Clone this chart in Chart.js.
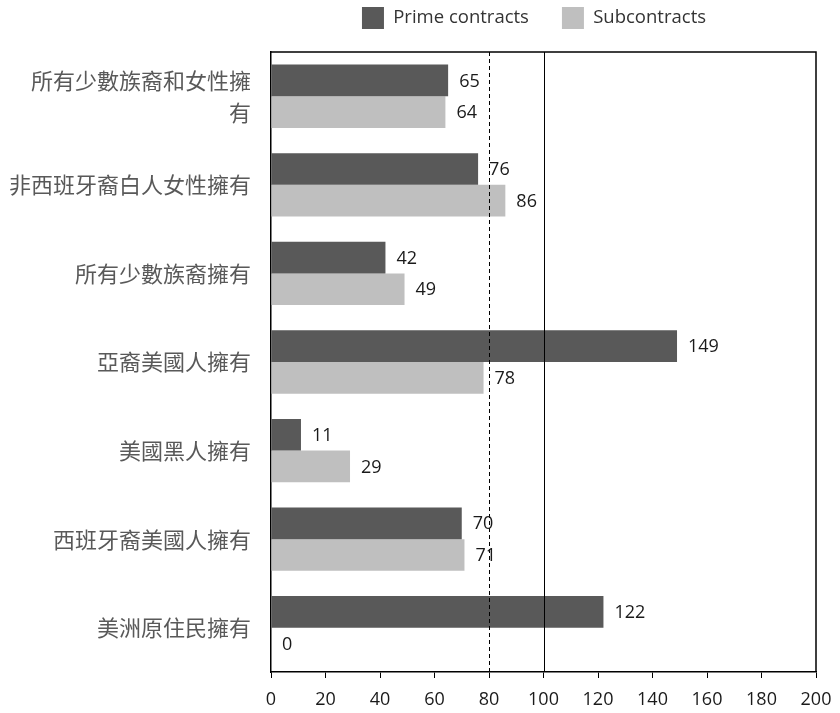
<!DOCTYPE html>
<html>
<head>
<meta charset="utf-8">
<script src="https://cdn.jsdelivr.net/npm/chart.js@4/dist/chart.umd.min.js"></script>
<style>
  html, body { margin: 0; padding: 0; background: #fff; }
  #wrap { width: 840px; height: 713px; position: relative; }
</style>
</head>
<body>
<div id="wrap"><canvas id="c"></canvas></div>
<script>
const categories = [
  ["所有少數族裔和女性擁", "有"],
  "非西班牙裔白人女性擁有",
  "所有少數族裔擁有",
  "亞裔美國人擁有",
  "美國黑人擁有",
  "西班牙裔美國人擁有",
  "美洲原住民擁有"
];
const seriesNames = ["Prime contracts", "Subcontracts"];
const primeValues = [65, 76, 42, 149, 11, 70, 122];
const subValues = [64, 86, 49, 78, 29, 71, 0];
const xTickValues = [0, 20, 40, 60, 80, 100, 120, 140, 160, 180, 200];
const referenceLines = [80, 100];

const NUM_FONT = "'Open Sans', 'Liberation Sans', sans-serif";

const legendTweak = {
  id: 'legendTweak',
  beforeLayout(chart) {
    const lg = chart.legend;
    if (lg && !lg._patched) {
      const orig = lg.fit.bind(lg);
      lg.fit = function () { orig(); this.height += 13; };
      lg._patched = true;
    }
  },
  afterLayout(chart) {
    const lg = chart.legend;
    if (lg) { lg.left = 252; }
  }
};

const frameAndLines = {
  id: 'frameAndLines',
  afterDatasetsDraw(chart) {
    const ctx = chart.ctx;
    const ca = chart.chartArea;
    const xs = chart.scales.x;
    ctx.save();
    ctx.strokeStyle = '#000';
    ctx.lineWidth = 1;
    let px = Math.round(xs.getPixelForValue(referenceLines[0])) + 0.5;
    ctx.setLineDash([4, 3]);
    ctx.beginPath(); ctx.moveTo(px, ca.top); ctx.lineTo(px, ca.bottom); ctx.stroke();
    ctx.setLineDash([]);
    px = Math.round(xs.getPixelForValue(referenceLines[1])) + 0.5;
    ctx.beginPath(); ctx.moveTo(px, ca.top); ctx.lineTo(px, ca.bottom); ctx.stroke();
    ctx.lineWidth = 1.5;
    ctx.beginPath();
    ctx.moveTo(ca.left, ca.top);
    ctx.lineTo(ca.right, ca.top);
    ctx.lineTo(ca.right, ca.bottom);
    ctx.stroke();
    ctx.fillStyle = '#1a1a1a';
    ctx.font = "18px " + NUM_FONT;
    ctx.textAlign = 'left';
    ctx.textBaseline = 'middle';
    chart.data.datasets.forEach((ds, di) => {
      const meta = chart.getDatasetMeta(di);
      meta.data.forEach((el, i) => {
        ctx.fillText(String(ds.data[i]), el.x + 11, el.y + 1);
      });
    });
    ctx.restore();
  }
};

new Chart(document.getElementById('c'), {
  type: 'bar',
  data: {
    labels: categories,
    datasets: [
      { label: seriesNames[0], data: primeValues, backgroundColor: '#595959', borderWidth: 0,
        categoryPercentage: 0.715, barPercentage: 1.0 },
      { label: seriesNames[1], data: subValues, backgroundColor: '#bfbfbf', borderWidth: 0,
        categoryPercentage: 0.715, barPercentage: 1.0 }
    ]
  },
  options: {
    indexAxis: 'y',
    responsive: true,
    maintainAspectRatio: false,
    animation: false,
    layout: { padding: { top: -26, left: 0, right: 24, bottom: 0 } },
    plugins: {
      legend: {
        position: 'top',
        labels: {
          boxWidth: 22,
          boxHeight: 22,
          padding: 33,
          color: '#333',
          font: { family: NUM_FONT, size: 18.5 }
        }
      },
      tooltip: { enabled: false }
    },
    scales: {
      x: {
        type: 'linear',
        min: 0,
        max: 200,
        afterBuildTicks(scale) { scale.ticks = xTickValues.map(v => ({ value: v })); },
        afterFit(scale) { scale.height = 41; scale.paddingLeft = 0; scale.paddingRight = 0; },
        grid: { display: true, drawOnChartArea: false, drawTicks: true, tickLength: 6, color: '#000', lineWidth: 1 },
        border: { display: true, color: '#000', width: 1.5 },
        ticks: { color: '#1a1a1a', padding: 11, maxRotation: 0, font: { family: NUM_FONT, size: 18 } }
      },
      y: {
        afterFit(scale) { scale.width = 271; scale.paddingTop = 0; scale.paddingBottom = 0; },
        grid: { display: false, drawTicks: false },
        border: { display: true, color: '#000', width: 1.5 },
        ticks: { color: '#595959', padding: 20, font: { family: "'Noto Sans CJK TC', 'Noto Sans CJK SC', sans-serif", size: 22, lineHeight: 1.46 } }
      }
    }
  },
  plugins: [legendTweak, frameAndLines]
});
</script>
</body>
</html>
